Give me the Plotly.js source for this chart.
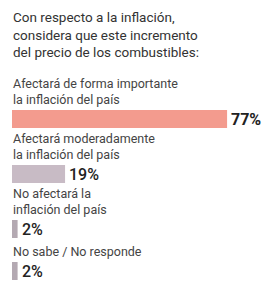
<!DOCTYPE html>
<html>
<head>
<meta charset="utf-8">
<script src="https://cdn.plot.ly/plotly-3.0.1.min.js"></script>
<style>html,body{margin:0;padding:0;background:#fff;}#chart{width:264px;height:282px;}</style>
</head>
<body>
<div id="chart"></div>
<script>
const titleText = "Con respecto a la inflación,<br>considera que este incremento<br>del precio de los combustibles:";
const categories = [
  "Afectará de forma importante<br>la inflación del país",
  "Afectará moderadamente<br>la inflación del país",
  "No afectará la<br>inflación del país",
  "No sabe / No responde"
];
const values = [77, 19, 2, 2];
const valueLabels = ["77%", "19%", "2%", "2%"];
const barColors = ["#F39B8E", "#C8BBC5", "#B4A9B2", "#B4A9B2"];

// Layout: each bar row is spaced by a base gap plus room for its label lines (pixel-like units)
const LINE = 13, GAP = 29, BAR = 18, FIRST = 119, H = 282;
const nLines = categories.map(c => c.split("<br>").length);
const pos = [];
nLines.forEach((n, i) => { pos.push(i === 0 ? 0 : pos[i - 1] + GAP + LINE * n); });

const annotations = [{
  x: 0, y: 1, xref: 'paper', yref: 'paper', text: titleText, showarrow: false,
  xanchor: 'left', yanchor: 'top', align: 'left', yshift: -7, xshift: -1,
  font: {family: 'Roboto', size: 13.5, color: '#333'}
}];
categories.forEach((c, i) => {
  annotations.push({
    x: 0, y: pos[i], xref: 'x', yref: 'y', text: c, showarrow: false,
    xanchor: 'left', yanchor: 'bottom', align: 'left', yshift: BAR / 2 + 1, xshift: -1,
    font: {family: 'Roboto', size: 12.5, color: '#444'}
  });
  annotations.push({
    x: values[i], y: pos[i], xref: 'x', yref: 'y', text: valueLabels[i], showarrow: false,
    xanchor: 'left', yanchor: 'middle', xshift: 2,
    font: {family: 'Roboto', size: 16, color: '#222', weight: i === 0 ? 'bold' : 500}
  });
});

Plotly.newPlot('chart', [{
  type: 'bar', orientation: 'h',
  x: values, y: pos,
  marker: {color: barColors},
  width: BAR,
  hoverinfo: 'none'
}], {
  width: 264, height: H,
  margin: {l: 12, r: 2, t: 0, b: 0},
  paper_bgcolor: '#fff', plot_bgcolor: '#fff',
  showlegend: false,
  xaxis: {range: [0, 89.5], visible: false, fixedrange: true},
  yaxis: {range: [H - FIRST, -FIRST], visible: false, fixedrange: true},
  annotations: annotations
}, {displayModeBar: false, staticPlot: true});
</script>
</body>
</html>
